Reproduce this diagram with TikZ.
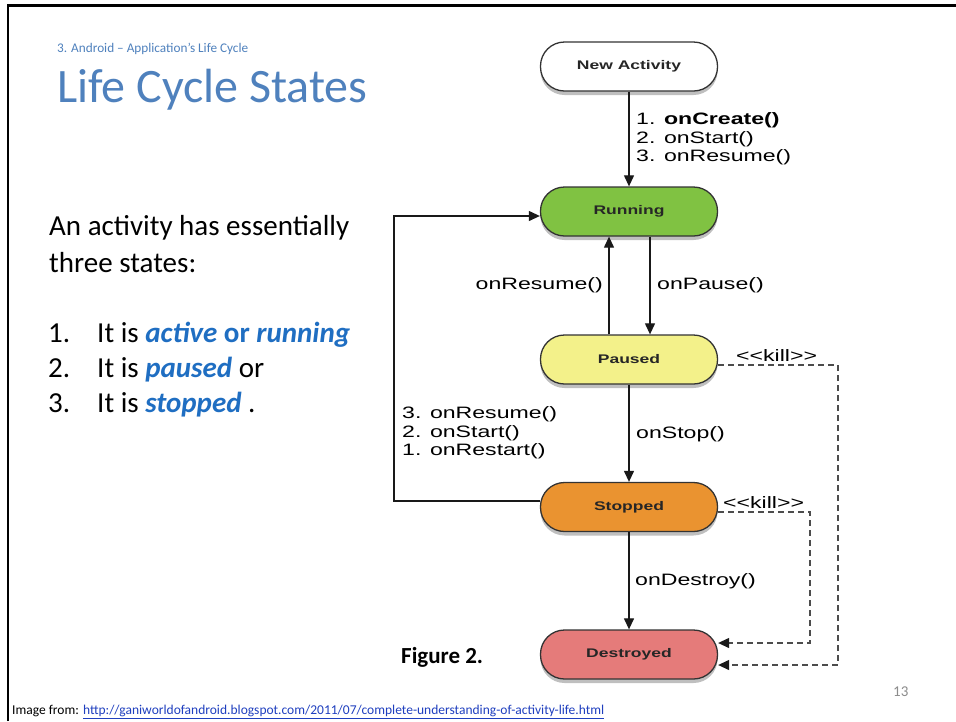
\documentclass[tikz,border=0pt]{standalone}
\usepackage{fontspec}
\setmainfont{Carlito}
\newfontfamily\diagfont[FakeStretch=1.4]{Liberation Sans}
\usetikzlibrary{arrows.meta,shadows,calc}
\definecolor{hdrblue}{HTML}{4F81BD}
\definecolor{emblue}{HTML}{1F6EC2}
\definecolor{runfill}{HTML}{80C242}
\definecolor{pausefill}{HTML}{F3F18A}
\definecolor{stopfill}{HTML}{EA9330}
\definecolor{destfill}{HTML}{E57B7A}
\definecolor{linkblue}{HTML}{1F3FBF}
\definecolor{pagegray}{HTML}{8C8C8C}
\begin{document}
\begin{tikzpicture}[x=1pt,y=-1pt,
  state/.style={draw=black!80, line width=1.3pt, rounded corners=24pt,
    minimum width=177pt, minimum height=49pt, inner sep=0pt,
    font=\diagfont\bfseries\fontsize{12.5}{14}\selectfont, text=black!85,
    drop shadow={shadow xshift=0pt, shadow yshift=-4pt, opacity=0.25, fill=black}},
  lbl/.style={font=\diagfont\fontsize{16.5}{18.7}\selectfont, inner sep=0pt, align=left},
  arr/.style={line width=1.2pt, draw=black!90, -{Triangle[length=11pt,width=10pt]}},
  killarr/.style={line width=1.2pt, draw=black!70, dash pattern=on 6pt off 4pt,
    -{Triangle[length=11pt,width=10pt,color=black!90,fill=black!90]}},
  body/.style={font=\fontsize{29}{33}\selectfont, inner sep=0pt, anchor=base west}]
\useasboundingbox (0,0) rectangle (956,721);
\fill[white] (0,0) rectangle (956,721);
% slide border
\draw[line width=2.5pt] (8,721) -- (8,5.5) -- (956,5.5);

% header and title
\node[anchor=base west, inner sep=0pt, text=hdrblue, font=\fontsize{13.25}{15}\selectfont] (hdr) at (57,52) {3. Android -- Application's Life Cycle};
\node[anchor=base west, inner sep=0pt, text=hdrblue, font=\fontsize{48}{52}\selectfont] (title) at (57,102) {Life Cycle States};

% body text
\node[body] (b1) at (49,235) {An activity has essentially};
\node[body] (b2) at (49,272) {three states:};
\node[body] (n1) at (48,342) {1.};
\node[body] (n2) at (48,377) {2.};
\node[body] (n3) at (48,412) {3.};
\node[body] (l1) at (97,342) {It is \textcolor{emblue}{\bfseries\itshape active} \textcolor{emblue}{\bfseries or} \textcolor{emblue}{\bfseries\itshape running}};
\node[body] (l2) at (97,377) {It is \textcolor{emblue}{\bfseries\itshape paused} or};
\node[body] (l3) at (97,412) {It is \textcolor{emblue}{\bfseries\itshape stopped} .};

% states
\node[state, fill=white] (new) at (629,66.5) {New Activity};
\node[state, fill=runfill] (run) at (629,211.5) {Running};
\node[state, fill=pausefill] (pause) at (629,359.5) {Paused};
\node[state, fill=stopfill] (stop) at (629,507) {Stopped};
\node[state, fill=destfill] (dest) at (629,654.5) {Destroyed};

% transitions
\draw[arr] (new) -- (run);
\draw[arr] ([xshift=21pt]run.south) -- ([xshift=21pt]pause.north);
\draw[arr] ([xshift=-20pt]pause.north) -- ([xshift=-20pt]run.south);
\draw[arr] (pause) -- (stop);
\draw[arr] (stop) -- (dest);
\coordinate (lpa) at (394,501);
\coordinate (lpb) at (394,216);
\draw[arr] ([yshift=6pt]stop.west) -- (lpa) -- (lpb) -- ([yshift=-4.5pt]run.west);
\coordinate (ka) at (838,365);
\coordinate (kb) at (838,665);
\draw[killarr] ([yshift=-5.5pt]pause.east) -- (ka) -- (kb) -- ([yshift=-10.5pt]dest.east);
\coordinate (kc) at (810,512);
\coordinate (kd) at (810,643);
\draw[killarr] ([yshift=-5pt]stop.east) -- (kc) -- (kd) -- ([yshift=11.5pt]dest.east);

% labels
\node[lbl, anchor=west] (lc) at (636,139) {1. {\bfseries onCreate()}\\2. onStart()\\3. onResume()};
\node[lbl, anchor=east] (lres) at (603,285) {onResume()};
\node[lbl, anchor=west] (lpau) at (657,285) {onPause()};
\node[lbl, anchor=west] (lrst) at (402,433) {3. onResume()\\2. onStart()\\1. onRestart()};
\node[lbl, anchor=west] (lstop) at (636,434) {onStop()};
\node[lbl, anchor=west] (ldes) at (635,581) {onDestroy()};
\node[lbl, anchor=west] (k1) at (736,356) {<{}<kill>{}>};
\node[lbl, anchor=west] (k2) at (723,503) {<{}<kill>{}>};

% figure caption, page number, source
\node[anchor=base west, inner sep=0pt, font=\bfseries\fontsize{23}{26}\selectfont] (fig) at (401,663) {Figure 2.};
\node[anchor=base west, inner sep=0pt, text=pagegray, font=\fontsize{15}{17}\selectfont] (pg) at (893,696) {13};
\node[anchor=base west, inner sep=0pt, font=\fontsize{13.5}{15}\selectfont] (src) at (12,714) {Image from: \textcolor{linkblue}{\underline{http://ganiworldofandroid.blogspot.com/2011/07/complete-understanding-of-activity-life.html}}};
\end{tikzpicture}
\end{document}
